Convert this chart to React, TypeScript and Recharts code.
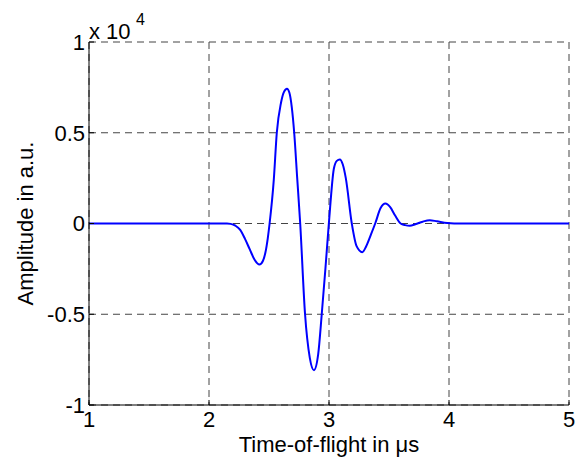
import { LineChart, Line, XAxis, YAxis, CartesianGrid } from "recharts";

// time of flight in microseconds
const times = [
  1.0, 2.0, 2.15, 2.18, 2.22, 2.26, 2.3, 2.34, 2.38, 2.42, 2.45, 2.47, 2.49,
  2.505, 2.54, 2.565, 2.6, 2.625, 2.65, 2.67, 2.69, 2.71, 2.735, 2.76, 2.8,
  2.84, 2.875, 2.91, 2.94, 2.97, 3.0, 3.04, 3.065, 3.09, 3.115, 3.14, 3.19,
  3.23, 3.277, 3.31, 3.35, 3.385, 3.43, 3.47, 3.51, 3.55, 3.597, 3.635, 3.673,
  3.72, 3.78, 3.84, 3.9, 3.985, 4.1, 5.0,
];

// amplitude in units of 10^4
const amplitude = [
  0, 0, 0, -0.002, -0.012, -0.035, -0.085, -0.143, -0.2, -0.226, -0.205, -0.16,
  -0.08, 0, 0.242, 0.5, 0.665, 0.725, 0.742, 0.72, 0.64, 0.5, 0.25, 0, -0.496,
  -0.74, -0.808, -0.72, -0.496, -0.25, 0.01, 0.3, 0.345, 0.353, 0.325, 0.25, 0,
  -0.125, -0.158, -0.125, -0.06, 0, 0.085, 0.11, 0.09, 0.045, 0, -0.009, -0.012,
  -0.004, 0.01, 0.018, 0.012, 0.003, 0, 0,
];

const xTicks = [1, 2, 3, 4, 5];
const yTicks = [-1, -0.5, 0, 0.5, 1];

const data = times.map((t, i) => ({ t, a: amplitude[i] }));

const FONT = "'Liberation Sans', Arial, sans-serif";
const tickStyle = { fill: "#000", fontSize: 22, fontFamily: FONT };
const blank = () => "";

export default function App() {
  return (
    <div
      style={{
        position: "absolute",
        left: 0,
        top: 0,
        width: 579,
        height: 457,
        background: "#fff",
      }}
    >
      <LineChart
        width={579}
        height={457}
        data={data}
        margin={{ top: 42, right: 10, bottom: 0, left: 0 }}
      >
        <CartesianGrid
          xAxisId="b"
          yAxisId="l"
          stroke="#444"
          strokeDasharray="7 5"
        />
        <XAxis
          xAxisId="b"
          dataKey="t"
          type="number"
          domain={[1, 5]}
          ticks={xTicks}
          height={52}
          stroke="#000"
          tickSize={-5}
          tickMargin={11}
          tick={tickStyle}
          label={{
            value: "Time-of-flight in \u03bcs",
            position: "insideBottom",
            offset: 5,
            style: { fill: "#000", fontSize: 22, fontFamily: FONT },
          }}
        />
        <XAxis
          xAxisId="t"
          orientation="top"
          dataKey="t"
          type="number"
          domain={[1, 5]}
          ticks={xTicks}
          height={0}
          stroke="#000"
          tickSize={-5}
          tickFormatter={blank}
        />
        <YAxis
          yAxisId="l"
          type="number"
          domain={[-1, 1]}
          ticks={yTicks}
          width={89}
          stroke="#000"
          tickSize={-5}
          tickMargin={9}
          tick={tickStyle}
          label={{
            value: "Amplitude in a.u.",
            angle: -90,
            position: "insideLeft",
            offset: 25,
            style: {
              fill: "#000",
              fontSize: 22,
              fontFamily: FONT,
              textAnchor: "middle",
            },
          }}
        />
        <YAxis
          yAxisId="r"
          orientation="right"
          type="number"
          domain={[-1, 1]}
          ticks={yTicks}
          width={0}
          stroke="#000"
          tickSize={-5}
          tickFormatter={blank}
        />
        <Line
          xAxisId="b"
          yAxisId="l"
          type="monotone"
          dataKey="a"
          stroke="#0000ff"
          strokeWidth={2}
          dot={false}
          isAnimationActive={false}
        />
      </LineChart>
      <svg
        width={579}
        height={457}
        style={{ position: "absolute", left: 0, top: 0, pointerEvents: "none" }}
      >
        <text x={89} y={39} fontSize={22} fontFamily={FONT} fill="#000">
          x 10
        </text>
        <text x={136} y={25} fontSize={16} fontFamily={FONT} fill="#000">
          4
        </text>
      </svg>
    </div>
  );
}
